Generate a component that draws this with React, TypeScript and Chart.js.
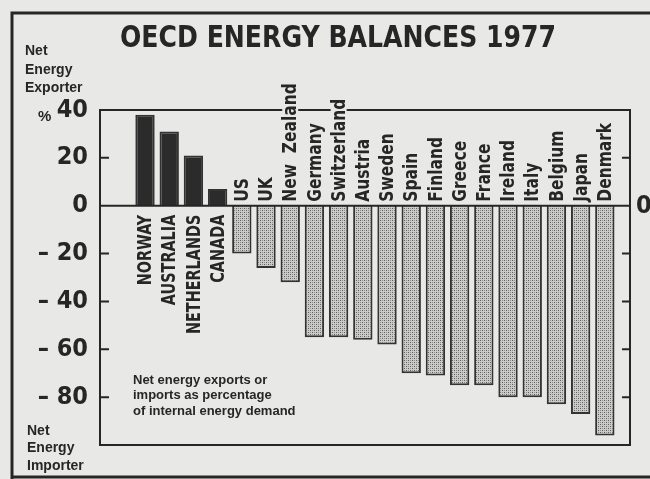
import React, { useEffect, useRef } from "react";
import { Chart, registerables } from "chart.js";

Chart.register(...registerables);

const countries = [
  "NORWAY", "AUSTRALIA", "NETHERLANDS", "CANADA", "US", "UK", "New  Zealand",
  "Germany", "Switzerland", "Austria", "Sweden", "Spain", "Finland", "Greece",
  "France", "Ireland", "Italy", "Belgium", "Japan", "Denmark",
];
const balancePct = [38, 31, 21, 7, -20, -26, -32, -55, -55, -56, -58, -70, -71, -75, -75, -80, -80, -83, -87, -96];
const yTickValues = [40, 20, 0, -20, -40, -60, -80];
const yTickMarks = [20, -20, -40, -60, -80];
const titleText = "OECD ENERGY BALANCES 1977";
const exporterLabel = ["Net", "Energy", "Exporter"];
const importerLabel = ["Net", "Energy", "Importer"];
const noteLines = ["Net energy exports or", "imports as percentage", "of internal energy demand"];

const PAPER = "#e8e8e6";
const INK = "#262626";
const NARROW = "'DejaVu Sans Condensed', 'Liberation Sans Narrow', 'Liberation Sans', sans-serif";
const SANS = "'Liberation Sans', 'Arial', sans-serif";

function makeStipple(): CanvasPattern | string {
  const c = document.createElement("canvas");
  c.width = 4;
  c.height = 4;
  const g = c.getContext("2d");
  if (!g) return "#aaaaaa";
  g.fillStyle = "#cbcbc9";
  g.fillRect(0, 0, 4, 4);
  g.fillStyle = "#5e5e5e";
  g.fillRect(0, 0, 1, 1);
  g.fillRect(2, 2, 1, 1);
  g.fillStyle = "#8e8e8e";
  g.fillRect(2, 0, 1, 1);
  g.fillRect(0, 2, 1, 1);
  const p = g.createPattern(c, "repeat");
  return p || "#aaaaaa";
}

export default function App() {
  const ref = useRef<HTMLCanvasElement | null>(null);

  useEffect(() => {
    document.body.style.background = PAPER;
    const canvas = ref.current;
    if (!canvas) return;
    const stipple = makeStipple();

    const decor = {
      id: "decor",
      beforeDraw(chart: any) {
        const ctx = chart.ctx;
        ctx.save();
        ctx.fillStyle = PAPER;
        ctx.fillRect(0, 0, chart.width, chart.height);
        ctx.restore();
      },
      afterDraw(chart: any) {
        const ctx = chart.ctx as CanvasRenderingContext2D;
        const area = chart.chartArea;
        const y = chart.scales.y;
        const x = chart.scales.x;
        const zero = y.getPixelForValue(0);
        ctx.save();
        ctx.strokeStyle = INK;
        ctx.lineWidth = 2;
        ctx.strokeRect(area.left, area.top, area.right - area.left, area.bottom - area.top);
        ctx.beginPath();
        ctx.moveTo(area.left, zero);
        ctx.lineTo(area.right, zero);
        ctx.stroke();
        yTickMarks.forEach((v) => {
          const py = y.getPixelForValue(v);
          ctx.beginPath();
          ctx.moveTo(area.left, py);
          ctx.lineTo(area.left + 9, py);
          ctx.moveTo(area.right, py);
          ctx.lineTo(area.right - 8, py);
          ctx.stroke();
        });
        ctx.lineWidth = 3;
        ctx.beginPath();
        ctx.moveTo(chart.width, 13);
        ctx.lineTo(12, 13);
        ctx.lineTo(12, chart.height);
        ctx.moveTo(12, 477);
        ctx.lineTo(chart.width, 477);
        ctx.stroke();

        // category labels (rotated, condensed along the text)
        ctx.fillStyle = INK;
        ctx.textBaseline = "middle";
        countries.forEach((name, i) => {
          const cx = x.getPixelForValue(i);
          const v = balancePct[i];
          ctx.save();
          ctx.font = `bold 20px ${NARROW}`;
          if (v >= 0) {
            ctx.translate(cx, zero + 9);
            ctx.rotate(-Math.PI / 2);
            ctx.scale(0.8, 1);
            ctx.textAlign = "right";
            ctx.fillText(name, 0, 1);
          } else {
            ctx.translate(cx, zero - 4);
            ctx.rotate(-Math.PI / 2);
            ctx.scale(0.86, 1);
            ctx.textAlign = "left";
            const w = ctx.measureText(name).width;
            ctx.fillStyle = PAPER;
            ctx.fillRect(-1, -8, w + 4, 16);
            ctx.fillStyle = INK;
            ctx.fillText(name, 0, 1);
          }
          ctx.restore();
        });

        // title (condensed)
        ctx.save();
        ctx.font = `bold 31px ${NARROW}`;
        ctx.textAlign = "left";
        ctx.textBaseline = "alphabetic";
        const tw = ctx.measureText(titleText).width;
        ctx.translate(120, 47);
        ctx.scale(436 / tw, 1);
        ctx.fillText(titleText, 0, 0);
        ctx.restore();

        ctx.textAlign = "left";
        ctx.textBaseline = "alphabetic";
        ctx.font = `bold 14px ${SANS}`;
        const expBase = [55, 74, 92];
        exporterLabel.forEach((t, i) => ctx.fillText(t, 25, expBase[i]));
        const impBase = [435, 452, 470];
        importerLabel.forEach((t, i) => ctx.fillText(t, 27, impBase[i]));
        ctx.font = `bold 15px ${SANS}`;
        ctx.fillText("%", 38, 121);
        ctx.font = `bold 13px ${SANS}`;
        const noteBase = [384, 399, 415];
        noteLines.forEach((t, i) => ctx.fillText(t, 133, noteBase[i]));

        ctx.font = `bold 25px ${NARROW}`;
        ctx.textBaseline = "middle";
        ctx.fillText("0", 636, zero + 1);
        ctx.restore();
      },
    };

    const chart = new Chart(canvas, {
      type: "bar",
      data: {
        datasets: [
          {
            label: "Net energy balance (%)",
            data: balancePct.map((v, i) => ({ x: i, y: v })),
            backgroundColor: (c: any) => ((c.raw && c.raw.y >= 0) ? "#2b2b2b" : stipple),
            borderColor: "#333333",
            borderWidth: 2,
            barPercentage: 0.8,
            categoryPercentage: 1,
          },
        ],
      },
      options: {
        responsive: false,
        animation: false,
        layout: { padding: { top: 110, right: 20, bottom: 34, left: 0 } },
        plugins: { legend: { display: false }, tooltip: { enabled: false }, title: { display: false } },
        scales: {
          x: { type: "linear", min: -1.86, max: 20.04, offset: false, display: false, grid: { offset: false } },
          y: {
            min: -100,
            max: 40,
            afterFit: (s: any) => { s.width = 100; },
            afterBuildTicks: (s: any) => { s.ticks = yTickValues.map((v) => ({ value: v })); },
            grid: { display: false, drawTicks: false },
            border: { display: false },
            ticks: {
              padding: 12,
              color: INK,
              font: { family: NARROW, weight: "bold", size: 25 },
              callback: (v: any) => (Number(v) < 0 ? `\u2013 ${Math.abs(Number(v))}` : `${v}`),
            },
          },
        },
      },
      plugins: [decor],
    });
    return () => chart.destroy();
  }, []);

  return (
    <div style={{ position: "absolute", left: 0, top: 0, width: 650, height: 479, background: PAPER }}>
      <canvas ref={ref} width={650} height={479} />
    </div>
  );
}
